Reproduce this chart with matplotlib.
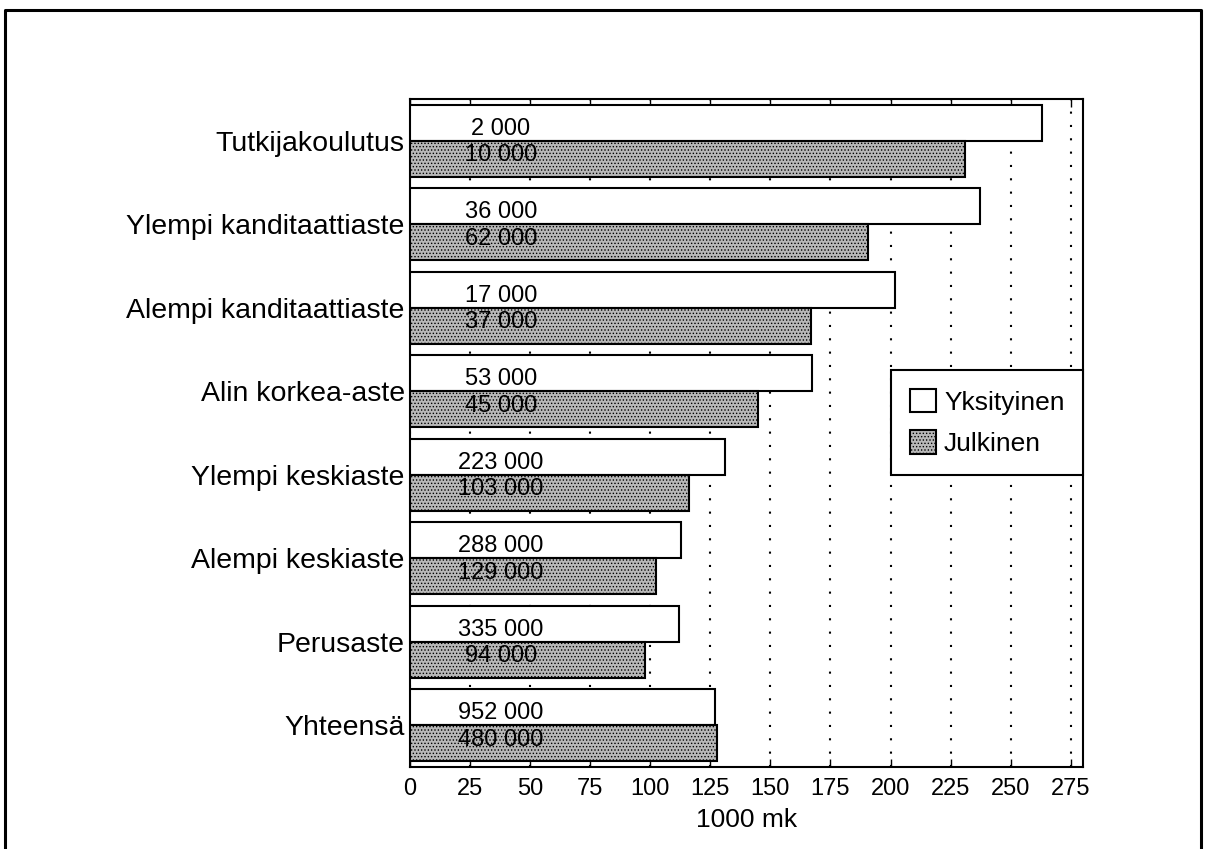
import numpy as np
import matplotlib
matplotlib.use('Agg')
import matplotlib.pyplot as plt
from matplotlib.lines import Line2D

plt.rcParams['font.family'] = ['Liberation Sans', 'DejaVu Sans']
plt.rcParams['hatch.linewidth'] = 0.6

# datos (1000 mk)
categorias = ['Tutkijakoulutus', 'Ylempi kanditaattiaste', 'Alempi kanditaattiaste',
              'Alin korkea-aste', 'Ylempi keskiaste', 'Alempi keskiaste',
              'Perusaste', 'Yhteensä']
yksityinen = [263, 237, 202, 167.5, 131, 113, 112, 127]
julkinen = [231, 190.5, 167, 145, 116, 102.5, 98, 128]
lkm_yks = ['2 000', '36 000', '17 000', '53 000', '223 000', '288 000', '335 000', '952 000']
lkm_julk = ['10 000', '62 000', '37 000', '45 000', '103 000', '129 000', '94 000', '480 000']
xticks = [0, 25, 50, 75, 100, 125, 150, 175, 200, 225, 250, 275]

fig = plt.figure(figsize=(12.05, 8.49), dpi=100)
ax = fig.add_axes([409.5/1205, 1 - 767/849, (1083 - 409.5)/1205, (767 - 99)/849])

y = np.arange(len(categorias))
h = 0.43
ax.barh(y - h/2, yksityinen, height=h, color='white', edgecolor='black',
        linewidth=1.5, label='Yksityinen', zorder=3)
ax.barh(y + h/2, julkinen, height=h, color='#b8b8b8', edgecolor='black',
        linewidth=1.5, hatch='.....', label='Julkinen', zorder=3)

# etiquetas de cantidad dentro de las barras
for i in range(len(categorias)):
    ax.text(38, y[i] - h/2 + 0.07, lkm_yks[i], ha='center', va='center',
            fontsize=17, zorder=4)
    ax.text(38, y[i] + h/2 - 0.04, lkm_julk[i], ha='center', va='center',
            fontsize=17, zorder=4)

ax.set_xlim(0, 280)
ax.set_ylim(len(categorias) - 0.5, -0.5)
ax.set_xticks(xticks)
ax.set_xticklabels([str(t) for t in xticks], fontsize=17)
ax.set_yticks(y)
ax.set_yticklabels(categorias, fontsize=20.5)
ax.tick_params(axis='y', length=0, pad=3.5)
ax.tick_params(axis='x', direction='in', top=True, bottom=True, length=6,
               width=1, pad=8)
ax.set_xlabel('1000 mk', fontsize=19, labelpad=6)

ax.grid(axis='x', color='black', linestyle=(0, (1, 5.4)), linewidth=1.5)
ax.set_axisbelow(True)
for s in ax.spines.values():
    s.set_linewidth(1.5)

leg = ax.legend(loc='upper right', bbox_to_anchor=(1.0, 0.594), borderaxespad=0,
                fontsize=19, fancybox=False, handlelength=1.0, handleheight=1.0,
                handletextpad=0.3, labelspacing=0.6, borderpad=0.7,
                framealpha=1, edgecolor='black')
leg.get_frame().set_linewidth(1.5)
leg.set_zorder(5)

# marco exterior
fig.add_artist(Line2D([5/1205, 5/1205, 1201/1205, 1201/1205],
                      [-0.05, 1 - 10/849, 1 - 10/849, -0.05],
                      color='black', linewidth=2.2))

fig.savefig('out.png', dpi=100)
